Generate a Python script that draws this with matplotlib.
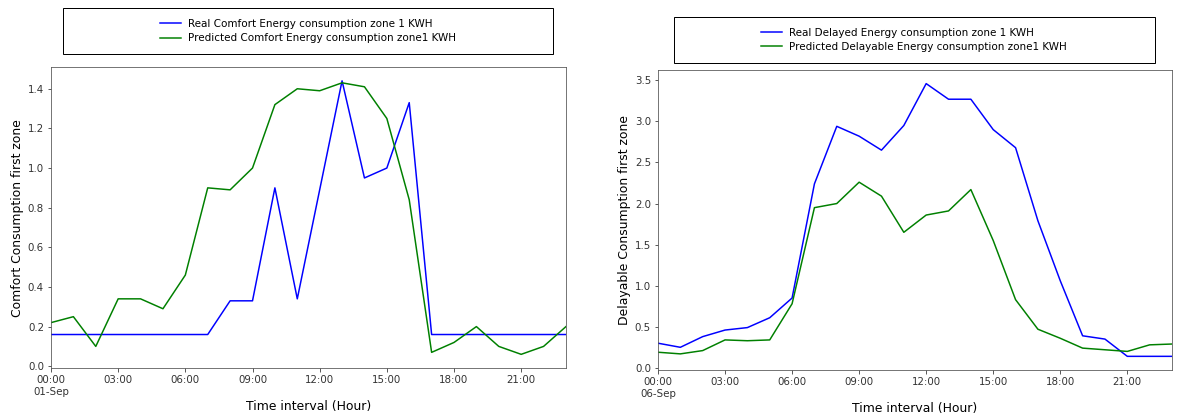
import numpy as np
import pandas as pd
import matplotlib
matplotlib.use("Agg")
import matplotlib.pyplot as plt
import matplotlib.dates as mdates
from matplotlib.patches import Rectangle


# hourly readings, one day each
comfort_times = pd.date_range("2018-09-01 00:00", periods=24, freq="h")
delay_times = pd.date_range("2018-09-06 00:00", periods=24, freq="h")

comfort_real = [0.16, 0.16, 0.16, 0.16, 0.16, 0.16, 0.16, 0.16, 0.33, 0.33, 0.90, 0.34,
                0.89, 1.44, 0.95, 1.00, 1.33, 0.16, 0.16, 0.16, 0.16, 0.16, 0.16, 0.16]
comfort_pred = [0.22, 0.25, 0.10, 0.34, 0.34, 0.29, 0.46, 0.90, 0.89, 1.00, 1.32, 1.40,
                1.39, 1.43, 1.41, 1.25, 0.84, 0.07, 0.12, 0.20, 0.10, 0.06, 0.10, 0.20]

delay_real = [0.30, 0.25, 0.38, 0.46, 0.49, 0.61, 0.85, 2.24, 2.94, 2.82, 2.65, 2.95,
              3.46, 3.27, 3.27, 2.90, 2.68, 1.79, 1.06, 0.39, 0.35, 0.14, 0.14, 0.14]
delay_pred = [0.19, 0.17, 0.21, 0.34, 0.33, 0.34, 0.78, 1.95, 2.00, 2.26, 2.09, 1.65,
              1.86, 1.91, 2.17, 1.55, 0.83, 0.47, 0.36, 0.24, 0.22, 0.20, 0.28, 0.29]

comfort_labels = ["Real Comfort Energy consumption zone 1 KWH",
                  "Predicted Comfort Energy consumption zone1 KWH"]
delay_labels = ["Real Delayed Energy consumption zone 1 KWH",
                "Predicted Delayable Energy consumption zone1 KWH"]


def fmt_hour(x, pos=None):
    d = mdates.num2date(x)
    if d.hour == 0:
        return d.strftime("%H:%M\n%d-%b")
    return d.strftime("%H:%M")


fig = plt.figure(figsize=(1186 / 72, 419 / 72), dpi=72)

ax1 = fig.add_axes([0.0430, 0.1217, 0.4342, 0.718])
ax2 = fig.add_axes([0.5548, 0.117, 0.4334, 0.716])


def draw(ax, times, real, pred, ylabel):
    l1, = ax.plot(times, real, color="blue", lw=1.5)
    l2, = ax.plot(times, pred, color="green", lw=1.5)
    ax.set_xlim(times[0], times[-1])
    ax.xaxis.set_major_locator(mdates.HourLocator(byhour=range(0, 24, 3)))
    ax.xaxis.set_major_formatter(plt.FuncFormatter(fmt_hour))
    ax.xaxis.set_minor_locator(plt.NullLocator())
    for lab in ax.get_xticklabels():
        lab.set_horizontalalignment("center")
    ax.tick_params(labelsize=10.3, colors="#333333")
    for s in ax.spines.values():
        s.set_color("#555555")
    ax.set_ylabel(ylabel, fontsize=12.4)
    ax.set_xlabel("Time interval (Hour)", fontsize=12.4, labelpad=3)
    return l1, l2


h1 = draw(ax1, comfort_times, comfort_real, comfort_pred, "Comfort Consumption first zone")
h2 = draw(ax2, delay_times, delay_real, delay_pred, "Delayable Consumption first zone")
ax1.set_yticks(np.arange(0, 1.5, 0.2))
ax2.set_yticks(np.arange(0, 3.6, 0.5))

# legend boxes above each panel
fig.patches.append(Rectangle((0.0531, 0.871), 0.413, 0.110, transform=fig.transFigure,
                             fill=False, edgecolor="black", lw=1))
fig.patches.append(Rectangle((0.568, 0.850), 0.4056, 0.110, transform=fig.transFigure,
                             fill=False, edgecolor="black", lw=1))
fig.legend(h1, comfort_labels, loc="center", bbox_to_anchor=(0.2597, 0.926),
           frameon=False, fontsize=10.4, handlelength=2.0, handletextpad=0.7,
           labelspacing=0.42)
fig.legend(h2, delay_labels, loc="center", bbox_to_anchor=(0.7708, 0.905),
           frameon=False, fontsize=10.4, handlelength=2.0, handletextpad=0.7,
           labelspacing=0.42)

fig.savefig("out.png", dpi=72)
